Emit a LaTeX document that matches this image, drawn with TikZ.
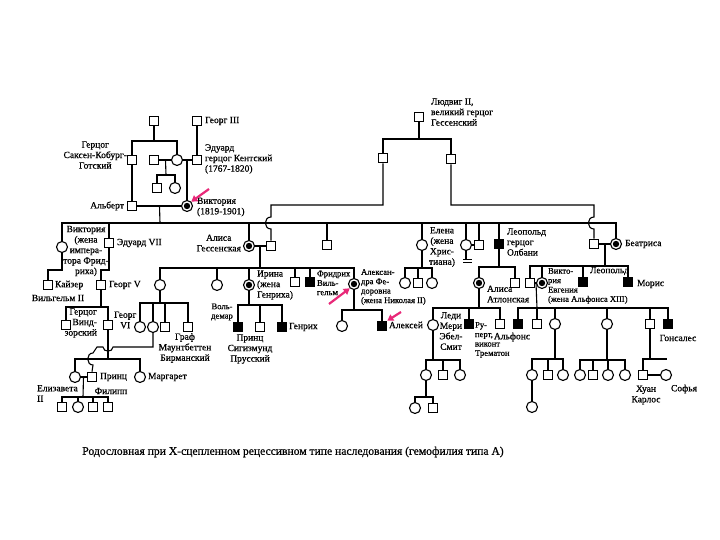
\documentclass[tikz,border=0pt]{standalone}
\usepackage{fontspec}
\setmainfont{Liberation Serif}[FakeBold=0.6]
\newfontfamily\skan{Liberation Serif}[FakeBold=0.6]
\usetikzlibrary{arrows.meta, calc}
\definecolor{strelkacol}{RGB}{232,40,120}

\begin{document}
\begin{tikzpicture}[
    x=1pt, y=-1pt,
    line width=1.1pt,
    muzh/.style    = {rectangle, draw=black, fill=white, line width=1.1pt,
                      minimum size=9.5pt, inner sep=0pt},
    zhena/.style   = {circle, draw=black, fill=white, line width=1.1pt,
                      minimum size=11pt, inner sep=0pt},
    bolnoj/.style  = {muzh, fill=black},
    nositel/.style = {zhena, path picture={\fill[black]
                      (path picture bounding box.center) circle (3.2pt);}},
    imya/.style    = {font=\skan\fontsize{9.5}{10.5}\selectfont, inner sep=0.5pt,
                      align=left},
    tesno/.style   = {imya, font=\skan\fontsize{8.6}{9.4}\selectfont},
    strelka/.style = {-{Triangle[length=6pt,width=7pt]}, draw=strelkacol,
                      line width=2.2pt},
    zapret/.style  = {line width=0.8pt},
  ]
  \useasboundingbox (0,0) rectangle (720,540);

  %-------------------------------------------------- I. Георг III, Саксен-Кобурги
  \node[muzh]  (sk0)    at (154,121) {};
  \node[muzh]  (georg3) at (197,121) {};
  \node[imya, anchor=west] (georg3-t) at (204,121) {Георг III};

  \node[muzh]  (skg)    at (132,160) {};
  \node[muzh]  (leing)  at (154,160) {};
  \node[zhena] (vkm)    at (177,160) {};
  \node[muzh]  (edk)    at (197,160) {};
  \node[muzh]  (karl)   at (157,188) {};
  \node[zhena] (feod)   at (175,188) {};
  \node[imya, anchor=east, align=center] (skg-t) at (128,155)
    {Герцог\\Саксен-Кобург-\\Готский};
  \node[imya, anchor=west] (edk-t) at (204,159)
    {Эдуард\\герцог Кентский\\(1767-1820)};

  \coordinate (s1) at (154,141);
  \coordinate (s2) at (166,175);
  \draw (sk0) -- (s1);
  \draw (skg.north) |- (s1) -| (vkm.north);
  \draw (georg3) -- (edk);
  \draw (leing) -- (vkm) -- (edk);
  \draw ($(leing)!0.5!(vkm)$) -- (s2);
  \draw (karl.north) |- (s2) -| (feod.north);

  %-------------------------------------------------- II. Виктория и Альберт
  \node[nositel] (vict)   at (187,206) {};
  \node[muzh]    (albert) at (132,206) {};
  \node[imya, anchor=west] (vict-t) at (196,207) {Виктория\\(1819-1901)};
  \node[imya, anchor=east] (albert-t) at (125,206) {Альберт};
  \draw ($(vkm)!0.5!(edk)$) -- (vict);
  \draw (skg) -- (albert) -- (vict);
  \coordinate (ar1) at (209,189);
  \draw[strelka] (ar1) -- (vict.north east);

  %-------------------------------------------------- Людвиг II Гессенский
  \node[muzh] (ludw2) at (419,117) {};
  \node[imya, anchor=west] (ludw2-t) at (430,112)
    {Людвиг II,\\великий герцог\\Гессенский};
  \node[muzh] (lsonA) at (383,158) {};
  \node[muzh] (lsonB) at (451,159) {};
  \coordinate (l1) at (419,139);
  \draw (ludw2) -- (l1);
  \draw (lsonA.north) |- (l1) -| (lsonB.north);

  %-------------------------------------------------- III. дети Виктории
  \coordinate (v1) at (160,223);
  \draw ($(albert)!0.5!(vict)$) -- (v1);

  \node[zhena]   (viktf)  at (62,247)  {};
  \node[muzh]    (edw7)   at (109,243) {};
  \node[nositel] (alisa)  at (249,246) {};
  \node[muzh]    (ludw4)  at (271,246) {};
  \node[muzh]    (alfred) at (327,245) {};
  \node[zhena]   (elena)  at (422,245) {};
  \node[zhena]   (luiza)  at (466,245) {};
  \node[muzh]    (artur)  at (479,245) {};
  \node[bolnoj]  (leop)   at (499,244) {};
  \node[muzh]    (genrB)  at (594,244) {};
  \node[nositel] (beatr)  at (616,244) {};

  \draw (viktf.north) |- (v1) -| (beatr.north);
  \foreach \n in {edw7,alisa,alfred,elena,luiza,artur,leop}
    \draw (\n.north) -- (\n.north |- v1);
  \draw (alisa) -- (ludw4);
  \draw (luiza) -- (artur);
  \draw (genrB) -- (beatr);

  \coordinate (h1) at (271,205);
  \coordinate (h2) at (594,205);
  \draw (lsonA.south) |- (h1) -- ++(0,12)
    to[out=180,in=180,looseness=1.6] ++(0,12) -- (ludw4.north);
  \draw (lsonB.south) |- (h2) -- ++(0,12)
    to[out=180,in=180,looseness=1.6] ++(0,12) -- (genrB.north);

  \coordinate (lz) at (467,259);
  \draw (luiza.south) -- (luiza.south |- lz);
  \draw[zapret] ([xshift=-4pt]lz) -- ([xshift=5pt]lz);
  \draw[zapret] ([shift={(-4,3)}]lz) -- ([shift={(5,3)}]lz);

  \node[imya, align=center] (viktf-t) at (86,251)
    {Виктория\\(жена\\импера-\\тора Фрид-\\риха)};
  \node[imya, anchor=west] (edw7-t) at (116,243) {Эдуард VII};
  \node[imya, anchor=east, align=center] (alisa-t) at (242,243)
    {Алиса\\Гессенская};
  \node[imya, align=center] (elena-t) at (442,247)
    {Елена\\(жена\\Хрис-\\тиана)};
  \node[imya, anchor=west] (leop-t) at (506,242)
    {Леопольд\\герцог\\Олбани};
  \node[imya, anchor=west] (beatr-t) at (624,244) {Беатриса};

  %-------------------------------------------------- IV. линия Эдуарда VII
  \node[muzh] (kaiser) at (48,285)  {};
  \node[muzh] (georg5) at (101,285) {};
  \coordinate (k1) at (48,270);
  \coordinate (g1) at (101,270);
  \draw (viktf) |- (k1) -- (kaiser);
  \draw (edw7) |- (g1) -- (georg5);
  \node[imya, anchor=west] (kaiser-t) at (54,285) {Кайзер};
  \node[imya] (kaiser-t2) at (58,298) {Вильгельм II};
  \node[imya, anchor=west] (georg5-t) at (108,285) {Георг V};

  \coordinate (g2) at (101,307);
  \node[muzh] (windsor) at (66,325)  {};
  \node[muzh] (georg6)  at (108,325) {};
  \draw (georg5) -- (g2);
  \draw (windsor.north) |- (g2) -| (georg6.north);
  \node[imya, align=right, anchor=east] (windsor-t) at (98,323)
    {Герцог\\Винд-\\зорский};
  \node[imya, align=center, anchor=west] (georg6-t) at (113,320) {Георг\\VI};

  \coordinate (g3) at (108,359);
  \node[zhena] (eliz)     at (75,377)  {};
  \node[muzh]  (philip)   at (92,377)  {};
  \node[zhena] (margaret) at (140,377) {};
  \draw (georg6) -- (g3);
  \draw (eliz.north) |- (g3) -| (margaret.north);
  \draw (eliz) -- (philip);
  \node[imya, anchor=north west] (eliz-t) at (36,384) {Елизавета\\II};
  \node[imya, anchor=west] (philip-t) at (99,377) {Принц};
  \node[imya] (philip-t2) at (111,391) {Филипп};
  \node[imya, anchor=west] (margaret-t) at (147,377) {Маргарет};

  \coordinate (el1) at (83,397);
  \node[muzh]  (ek1) at (62,407)  {};
  \node[zhena] (ek2) at (78,407)  {};
  \node[muzh]  (ek3) at (93,407)  {};
  \node[muzh]  (ek4) at (108,407) {};
  \draw ($(eliz)!0.5!(philip)$) -- (el1);
  \draw (ek1.north) |- (el1) -| (ek4.north);
  \foreach \n in {ek2,ek3} \draw (\n) -- (\n |- el1);

  %-------------------------------------------------- IV. дети Алисы Гессенской
  \coordinate (al1) at (260,268);
  \node[zhena]   (vicH)      at (160,285) {};
  \node[zhena]   (ella)      at (217,285) {};
  \node[nositel] (irina)     at (249,285) {};
  \node[muzh]    (al4)       at (295,282) {};
  \node[bolnoj]  (fw)        at (310,282) {};
  \node[nositel] (alexandra) at (354,284) {};
  \draw ($(alisa)!0.5!(ludw4)$) -- (al1);
  \draw (vicH.north) |- (al1) -| (alexandra.north);
  \foreach \n in {ella,irina,al4,fw} \draw (\n) -- (\n |- al1);

  \node[imya, anchor=west] (irina-t) at (256,285) {Ирина\\(жена\\Генриха)};
  \node[tesno, anchor=west] (fw-t) at (316,283) {Фридрих\\Виль-\\гельм};
  \node[tesno, anchor=west] (alexandra-t) at (360,287)
    {Алексан-\\дра Фе-\\доровна\\(жена Николая II)};

  % Виктория Гессенская
  \coordinate (vh1) at (160,303);
  \node[zhena] (bat1)   at (140,327) {};
  \node[zhena] (bat2)   at (153,327) {};
  \node[muzh]  (bat3)   at (165,327) {};
  \node[muzh]  (mountb) at (188,327) {};
  \draw (vicH) -- (vh1);
  \draw (bat1.north) |- (vh1) -| (mountb.north);
  \foreach \n in {bat2,bat3} \draw (\n) -- (\n |- vh1);
  \node[imya, align=center] (mountb-t) at (185,348)
    {Граф\\Маунтбеттен\\Бирманский};

  \coordinate (p1) at (113,347);
  \coordinate (p2) at (97,347);
  \draw (bat2) |- (p1) to[out=-90,in=-90,looseness=1.4] ++(-10,0) -- (p2)
    -- ++(-4,6) to[out=180,in=180,looseness=1.5] ++(0,12) -- (philip.north);

  % Ирина
  \coordinate (ir1) at (249,305);
  \node[bolnoj] (vold)  at (238,327) {};
  \node[muzh]   (sigis) at (260,327) {};
  \node[bolnoj] (genrH) at (282,327) {};
  \draw (irina) -- (ir1);
  \draw (vold.north) |- (ir1) -| (genrH.north);
  \draw (sigis) -- (sigis |- ir1);
  \node[tesno, align=center] (vold-t) at (222,312) {Воль-\\демар};
  \node[imya, align=center] (sigis-t) at (250,349)
    {Принц\\Сигизмунд\\Прусский};
  \node[imya, anchor=west] (genrH-t) at (288,327) {Генрих};

  % Александра Федоровна
  \coordinate (ax1) at (354,310);
  \node[zhena]  (olga)   at (342,326) {};
  \node[bolnoj] (alexei) at (382,326) {};
  \draw (alexandra) -- (ax1);
  \draw (olga.north) |- (ax1) -| (alexei.north);
  \node[imya, anchor=west] (alexei-t) at (388,325) {Алексей};
  \coordinate (ar2) at (329,304);
  \coordinate (ar3) at (401,312);
  \draw[strelka] (ar2) -- (alexandra.south west);
  \draw[strelka] (ar3) -- (alexei.north east);

  %-------------------------------------------------- IV. дети Елены
  \coordinate (e1) at (422,268);
  \node[zhena] (elk1) at (405,283) {};
  \node[muzh]  (elk2) at (418,283) {};
  \node[zhena] (elk3) at (432,283) {};
  \draw (elena) -- (e1);
  \draw (elk1.north) |- (e1) -| (elk3.north);
  \draw (elk2) -- (elk2 |- e1);

  %-------------------------------------------------- IV. дети Леопольда
  \coordinate (lp1) at (499,267);
  \node[nositel] (alAt)  at (479,283) {};
  \node[muzh]    (karlE) at (515,283) {};
  \draw (leop) -- (lp1);
  \draw (alAt.north) |- (lp1) -| (karlE.north);
  \node[imya, anchor=west] (alAt-t) at (486,294) {Алиса\\Атлонская};

  \coordinate (at1) at (479,308);
  \node[zhena]  (mary)   at (433,325) {};
  \node[bolnoj] (rupert) at (469,324) {};
  \node[muzh]   (alfons) at (500,324) {};
  \draw (alAt) -- (at1);
  \draw (mary.north) |- (at1) -| (alfons.north);
  \draw (rupert) -- (rupert |- at1);
  \node[imya, align=center] (mary-t) at (451,331) {Леди\\Мери\\Эбел-\\Смит};
  \node[tesno, anchor=north west] (rupert-t) at (474,321)
    {Ру-\\перт,\\виконт\\Трематон};
  \node[imya] (alfons-t) at (512,337) {Альфонс};

  \coordinate (mr1) at (433,360);
  \node[zhena] (mk1) at (426,375) {};
  \node[muzh]  (mk2) at (443,375) {};
  \node[zhena] (mk3) at (460,375) {};
  \draw (mary) -- (mr1);
  \draw (mk1.north) |- (mr1) -| (mk3.north);
  \draw (mk2) -- (mk2 |- mr1);
  \coordinate (mr2) at (426,397);
  \node[zhena] (mv1) at (415,408) {};
  \node[muzh]  (mv2) at (433,408) {};
  \draw (mk1) -- (mr2);
  \draw (mv1.north) |- (mr2) -| (mv2.north);

  %-------------------------------------------------- IV. дети Беатрисы
  \coordinate (b1) at (605,266);
  \node[muzh]    (alf13) at (530,283) {};
  \node[nositel] (vEug)  at (542,283) {};
  \node[bolnoj]  (leopB) at (583,282) {};
  \node[bolnoj]  (moris) at (628,282) {};
  \draw ($(genrB)!0.5!(beatr)$) -- (b1);
  \draw (alf13.north) |- (b1) -| (moris.north);
  \foreach \n in {vEug,leopB} \draw (\n) -- (\n |- b1);
  \draw (alf13) -- (vEug);
  \node[tesno, anchor=north west] (vEug-t) at (547,267)
    {Викто-\\рия\\Евгения\\(жена Альфонса XIII)};
  \node[imya, anchor=west] (leopB-t) at (589,271) {Леопольд};
  \node[imya, anchor=west] (moris-t) at (636,284) {Морис};

  \coordinate (vg1) at (537,308);
  \node[bolnoj] (vga) at (518,324) {};
  \node[muzh]   (vgb) at (537,324) {};
  \node[zhena]  (vgc) at (555,324) {};
  \node[zhena]  (vgd) at (607,324) {};
  \node[muzh]   (vge) at (650,324) {};
  \node[bolnoj] (gons) at (668,324) {};
  \draw ($(alf13)!0.5!(vEug)$) -- (vg1);
  \draw (vga.north) |- (vg1) -| (gons.north);
  \foreach \n in {vgb,vgc,vgd,vge} \draw (\n) -- (\n |- vg1);
  \node[imya] (gons-t) at (678,338) {Гонсалес};

  \coordinate (vc1) at (555,359);
  \node[zhena] (vca) at (532,375) {};
  \node[muzh]  (vcb) at (548,375) {};
  \node[zhena] (vcc) at (563,375) {};
  \node[zhena] (vcd) at (532,407) {};
  \draw (vgc) -- (vc1);
  \draw (vca.north) |- (vc1) -| (vcc.north);
  \draw (vcb) -- (vcb |- vc1);
  \draw (vca) -- (vcd);

  \coordinate (vd1) at (607,360);
  \node[zhena] (vda) at (580,375) {};
  \node[muzh]  (vdb) at (593,375) {};
  \node[zhena] (vdc) at (608,375) {};
  \node[zhena] (vdd) at (625,375) {};
  \draw (vgd) -- (vd1);
  \draw (vda.north) |- (vd1) -| (vdd.north);
  \foreach \n in {vdb,vdc} \draw (\n) -- (\n |- vd1);

  \coordinate (vj1) at (650,359);
  \coordinate (vj2) at (667,359);
  \node[muzh]  (juan)  at (643,375) {};
  \node[zhena] (sofia) at (666,375) {};
  \draw (vge) -- (vj1);
  \draw (juan.north) |- (vj2);
  \draw (juan) -- (sofia);
  \node[imya, align=center] (juan-t) at (646,395) {Хуан\\Карлос};
  \node[imya] (sofia-t) at (684,389) {Софья};

  %-------------------------------------------------- подпись
  \node[font=\skan\fontsize{11.6}{13}\selectfont] (title) at (293,452)
    {Родословная при Х-сцепленном рецессивном типе наследования (гемофилия типа А)};
\end{tikzpicture}
\end{document}
